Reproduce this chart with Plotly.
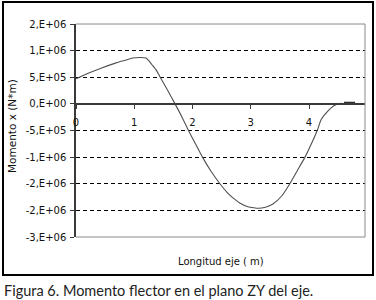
import plotly.graph_objects as go

# ---- data ----
x_m = [0, 0.2, 0.43, 0.69, 0.85, 0.97, 1.1, 1.2, 1.25, 1.30, 1.38, 1.44, 1.57, 1.70,
       1.82, 1.93, 2.05, 2.17, 2.32, 2.47, 2.60, 2.70, 2.81, 2.95, 3.05, 3.13, 3.25,
       3.38, 3.53, 3.67, 3.80, 3.93, 4.04, 4.14, 4.21, 4.33, 4.42, 4.50, 4.57]
moment_x = [4.7e5, 5.7e5, 6.7e5, 7.7e5, 8.2e5, 8.6e5, 8.7e5, 8.6e5, 8.1e5, 7.4e5, 6.3e5,
            5.1e5, 2.6e5, 0, -2.5e5, -5.0e5, -7.5e5, -1.0e6, -1.27e6, -1.5e6, -1.67e6,
            -1.77e6, -1.86e6, -1.93e6, -1.95e6, -1.96e6, -1.94e6, -1.88e6, -1.73e6,
            -1.5e6, -1.25e6, -1.0e6, -7.5e5, -5.0e5, -2.9e5, -1.25e5, -4e4, 0, 1e4]
tail_x = [4.60, 4.79]
tail_y = [2e4, 2e4]

x_ticks = [0, 1, 2, 3, 4]
x_tick_text = ["0", "1", "2", "3", "4"]
y_ticks = [1.5e6, 1e6, 5e5, 0, -5e5, -1e6, -1.5e6, -2e6, -2.5e6]
y_tick_text = ["2,E+06", "1,E+06", "5,E+05", "0,E+00", "-5,E+05", "-1,E+06",
               "-2,E+06", "-2,E+06", "-3,E+06"]
y_range = [-2.5e6, 1.5e6]
x_range = [0, 4.96]

# ---- layout geometry (pixels) ----
W, H = 376, 300
L, R, T, B = 76, 365, 24, 237
pw, ph = R - L, B - T


def px(xp):
    return (xp - L) / pw


def py(yp):
    return (B - yp) / ph


zero_pos = (0 - y_range[0]) / (y_range[1] - y_range[0])

fig = go.Figure()
fig.add_trace(go.Scatter(x=x_m, y=moment_x, mode="lines",
                         line=dict(color="#505050", width=1.1, shape="spline",
                                   smoothing=0.6), hoverinfo="skip"))
fig.add_trace(go.Scatter(x=tail_x, y=tail_y, mode="lines",
                         line=dict(color="#303030", width=2.2), hoverinfo="skip"))

font_tick = dict(family="DejaVu Sans", size=10, color="#111")

fig.update_layout(
    width=W, height=H,
    margin=dict(l=L, r=W - R, t=T, b=H - B),
    paper_bgcolor="white", plot_bgcolor="white",
    showlegend=False,
    xaxis=dict(range=x_range, tickvals=x_ticks, ticktext=x_tick_text,
               anchor="free", position=zero_pos, showgrid=False, zeroline=False,
               showline=True, linecolor="#3a3a3a", linewidth=2,
               ticks="outside", ticklen=4, tickcolor="#3a3a3a", tickwidth=1,
               ticklabelstandoff=5, tickfont=font_tick),
    yaxis=dict(range=y_range, tickvals=y_ticks, ticktext=y_tick_text,
               showgrid=True, gridcolor="#000", griddash="4px,3px", gridwidth=1,
               zeroline=False, showline=True, linecolor="#3a3a3a", linewidth=1.5,
               ticks="outside", ticklen=4, tickcolor="#3a3a3a", tickwidth=1,
               ticklabelstandoff=2, tickfont=font_tick),
    shapes=[
        # plot frame (top/right/bottom gray)
        dict(type="line", xref="paper", yref="paper", x0=0, x1=1, y0=1, y1=1,
             line=dict(color="#8a8a8a", width=1), layer="above"),
        dict(type="line", xref="paper", yref="paper", x0=1, x1=1, y0=0, y1=1,
             line=dict(color="#8a8a8a", width=1), layer="above"),
        dict(type="line", xref="paper", yref="paper", x0=0, x1=1, y0=0, y1=0,
             line=dict(color="#8a8a8a", width=1), layer="above"),
        # outer border
        dict(type="rect", xref="paper", yref="paper",
             x0=px(3), x1=px(373), y0=py(275), y1=py(2),
             line=dict(color="#000", width=2), layer="above"),
    ],
    annotations=[
        dict(text="Longitud eje ( m)", xref="paper", yref="paper",
             x=0.5, y=py(261), xanchor="center", yanchor="middle",
             showarrow=False, font=dict(family="DejaVu Sans", size=10, color="#111")),
        dict(text="Momento x (N*m)", xref="paper", yref="paper",
             x=px(12), y=py(126), xanchor="center", yanchor="middle", textangle=-90,
             showarrow=False, font=dict(family="DejaVu Sans", size=10.5, color="#111")),
        dict(text="Figura 6. Momento flector en el plano ZY del eje.", xref="paper",
             yref="paper", x=px(2), y=py(290), xanchor="left", yanchor="middle",
             showarrow=False, font=dict(family="Lato", size=14.5, color="#222")),
    ],
)

fig.write_html("out.html", config={"displayModeBar": False},
               post_script="document.body.style.margin='0';document.body.style.padding='0';")
